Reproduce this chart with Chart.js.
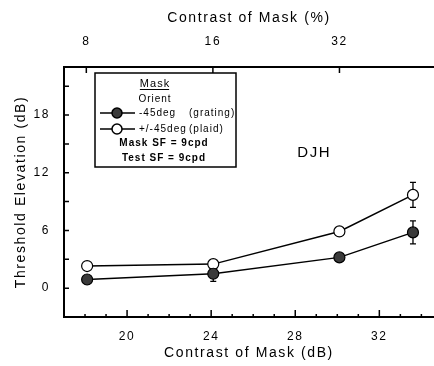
<!DOCTYPE html>
<html>
<head>
<meta charset="utf-8">
<script src="https://cdn.jsdelivr.net/npm/chart.js@4/dist/chart.umd.min.js"></script>
<style>
  html, body { margin: 0; padding: 0; background: #fff; }
  #wrap { width: 434px; height: 366px; }
</style>
</head>
<body>
<div id="wrap"><canvas id="myChart" width="434" height="366"></canvas></div>
<script>

  /* Threshold elevation vs mask contrast
  -----------------------------------------------*/

  const maskDb = [18.1, 24.1, 30.1, 33.6];          // mask contrast, dB
  const gratingThr = [0.9, 1.5, 3.2, 5.8];          // -45deg (grating)
  const gratingErr = [0, 0.8, 0, 1.2];
  const plaidThr = [2.3, 2.5, 5.9, 9.7];            // +/-45deg (plaid)
  const plaidErr = [0, 0, 0, 1.3];
  const topPct = [8, 16, 32];                       // top axis, mask contrast %
  const legendLines = ['Mask SF = 9cpd', 'Test SF = 9cpd'];

  const FONT = '"Liberation Sans", Arial, sans-serif';

  function toDb(p) { return 20 * Math.log10(p); }

  // wide letter spacing for all axis text
  const spacing = {
    id: 'spacing',
    beforeLayout(chart) { chart.ctx.letterSpacing = '1.6px'; },
    beforeDraw(chart) { chart.ctx.letterSpacing = '1.6px'; }
  };

  // error bars, drawn under the markers
  const errorBars = {
    id: 'errorBars',
    beforeDatasetsDraw(chart) {
      const ctx = chart.ctx;
      const xs = chart.scales.x, ys = chart.scales.y;
      ctx.save();
      ctx.strokeStyle = '#000';
      ctx.lineWidth = 1.3;
      chart.data.datasets.forEach(ds => {
        ds.data.forEach((pt, i) => {
          const e = ds.errors[i];
          if (!e) return;
          const px = xs.getPixelForValue(pt.x);
          const y1 = ys.getPixelForValue(pt.y + e);
          const y2 = ys.getPixelForValue(pt.y - e);
          ctx.beginPath();
          ctx.moveTo(px, y1); ctx.lineTo(px, y2);
          ctx.moveTo(px - 3, y1); ctx.lineTo(px + 3, y1);
          ctx.moveTo(px - 3, y2); ctx.lineTo(px + 3, y2);
          ctx.stroke();
        });
      });
      ctx.restore();
    }
  };

  // inward tick marks on the three drawn axes
  const inwardTicks = {
    id: 'inwardTicks',
    afterDraw(chart) {
      const ctx = chart.ctx;
      const a = chart.chartArea;
      const xs = chart.scales.x, ys = chart.scales.y, xt = chart.scales.xTop;
      ctx.save();
      ctx.strokeStyle = '#000';
      ctx.lineWidth = 1.5;
      ctx.beginPath();
      for (let v = 0; v <= 21; v += 3) {
        const py = ys.getPixelForValue(v);
        ctx.moveTo(a.left, py); ctx.lineTo(a.left + 5, py);
      }
      for (let v = 18; v <= 34; v++) {
        const px = xs.getPixelForValue(v);
        const len = v % 4 === 0 ? 7 : 3;
        ctx.moveTo(px, a.bottom); ctx.lineTo(px, a.bottom - len);
      }
      topPct.forEach(p => {
        const px = xt.getPixelForValue(toDb(p));
        ctx.moveTo(px, a.top); ctx.lineTo(px, a.top + 6);
      });
      ctx.stroke();
      ctx.restore();
    }
  };

  // boxed legend and subject label
  const boxLegend = {
    id: 'boxLegend',
    afterDraw(chart) {
      const ctx = chart.ctx;
      const xs = chart.scales.x, ys = chart.scales.y;
      ctx.save();
      ctx.strokeStyle = '#000';
      ctx.lineWidth = 1.5;
      ctx.strokeRect(95, 73, 141, 94);

      ctx.fillStyle = '#000';
      ctx.textBaseline = 'middle';
      ctx.textAlign = 'left';
      ctx.letterSpacing = '1px';
      ctx.font = '11px ' + FONT;
      let w = ctx.measureText('Mask').width;
      ctx.fillText('Mask', 155 - w / 2, 84);
      ctx.lineWidth = 1;
      ctx.beginPath();
      ctx.moveTo(155 - w / 2, 89.5); ctx.lineTo(155 + w / 2 - 1, 89.5);
      ctx.stroke();
      ctx.font = '10px ' + FONT;
      w = ctx.measureText('Orient').width;
      ctx.fillText('Orient', 155 - w / 2, 99);

      const rows = [
        { y: 113, fill: '#3a3a3a', name: '-45deg', kind: '(grating)' },
        { y: 129, fill: '#fff', name: '+/-45deg', kind: '(plaid)' }
      ];
      rows.forEach(r => {
        ctx.lineWidth = 1.5;
        ctx.beginPath();
        ctx.moveTo(100, r.y); ctx.lineTo(135, r.y);
        ctx.stroke();
        ctx.beginPath();
        ctx.arc(117, r.y, 5, 0, Math.PI * 2);
        ctx.fillStyle = r.fill;
        ctx.fill();
        ctx.stroke();
        ctx.fillStyle = '#000';
        ctx.font = '10px ' + FONT;
        ctx.fillText(r.name, 139, r.y);
        ctx.fillText(r.kind, 189, r.y);
      });

      ctx.font = 'bold 10px ' + FONT;
      legendLines.forEach((t, i) => {
        const tw = ctx.measureText(t).width;
        ctx.fillText(t, 164 - tw / 2, 143 + i * 15);
      });

      ctx.letterSpacing = '1.5px';
      ctx.font = '15px ' + FONT;
      ctx.fillText('DJH', xs.getPixelForValue(28.1), ys.getPixelForValue(14.1));
      ctx.restore();
    }
  };

  function series(ys) {
    return maskDb.map((x, i) => ({ x: x, y: ys[i] }));
  }

  const ctx = document.getElementById('myChart').getContext('2d');
  const myChart = new Chart(ctx, {
    type: 'scatter',
    data: {
      datasets: [{
        label: '-45deg (grating)',
        data: series(gratingThr),
        errors: gratingErr,
        showLine: true,
        borderColor: '#000',
        borderWidth: 1.5,
        pointBackgroundColor: '#3a3a3a',
        pointBorderColor: '#000',
        pointBorderWidth: 1.2,
        pointRadius: 5.5
      }, {
        label: '+/-45deg (plaid)',
        data: series(plaidThr),
        errors: plaidErr,
        showLine: true,
        borderColor: '#000',
        borderWidth: 1.5,
        pointBackgroundColor: '#fff',
        pointBorderColor: '#000',
        pointBorderWidth: 1.2,
        pointRadius: 5.5
      }]
    },
    options: {
      responsive: false,
      animation: false,
      layout: { padding: 0, autoPadding: false },
      plugins: { legend: { display: false }, tooltip: { enabled: false } },
      scales: {
        x: {
          type: 'linear',
          position: 'bottom',
          min: 17, max: 34.6,
          afterFit(s) { s.height = 49; s.paddingLeft = 0; s.paddingRight = 0; },
          afterBuildTicks(s) {
            const t = [];
            for (let v = 17; v <= 34; v++) t.push({ value: v });
            s.ticks = t;
          },
          ticks: {
            autoSkip: false,
            maxRotation: 0,
            padding: 12,
            color: '#000',
            font: { family: FONT, size: 12 },
            callback: v => (v % 4 === 0 ? v : '')
          },
          grid: { drawOnChartArea: false, drawTicks: false },
          border: { display: true, color: '#000', width: 2 },
          title: {
            display: true,
            text: 'Contrast of Mask (dB)',
            color: '#000',
            font: { family: FONT, size: 14 },
            padding: 4
          }
        },
        xTop: {
          type: 'linear',
          position: 'top',
          min: 17, max: 34.6,
          afterFit(s) { s.height = 67; s.paddingLeft = 0; s.paddingRight = 0; },
          afterBuildTicks(s) { s.ticks = topPct.map(p => ({ value: toDb(p) })); },
          ticks: {
            autoSkip: false,
            maxRotation: 0,
            padding: 18,
            color: '#000',
            font: { family: FONT, size: 12 },
            callback: (v, i) => topPct[i]
          },
          grid: { drawOnChartArea: false, drawTicks: false },
          border: { display: true, color: '#000', width: 2 },
          title: {
            display: true,
            text: 'Contrast of Mask (%)',
            color: '#000',
            font: { family: FONT, size: 14 },
            padding: 10
          }
        },
        y: {
          type: 'linear',
          min: -3, max: 23,
          afterFit(s) { s.width = 64; s.paddingTop = 0; s.paddingBottom = 0; },
          ticks: {
            stepSize: 3,
            padding: 14,
            color: '#000',
            font: { family: FONT, size: 12 },
            callback: v => (v >= 0 && v % 6 === 0 ? v : '')
          },
          grid: { drawOnChartArea: false, drawTicks: false },
          border: { display: true, color: '#000', width: 2 },
          title: {
            display: true,
            text: 'Threshold Elevation (dB)',
            color: '#000',
            font: { family: FONT, size: 14 },
            padding: 13
          }
        }
      }
    },
    plugins: [spacing, errorBars, inwardTicks, boxLegend]
  });
</script>
</body>
</html>
